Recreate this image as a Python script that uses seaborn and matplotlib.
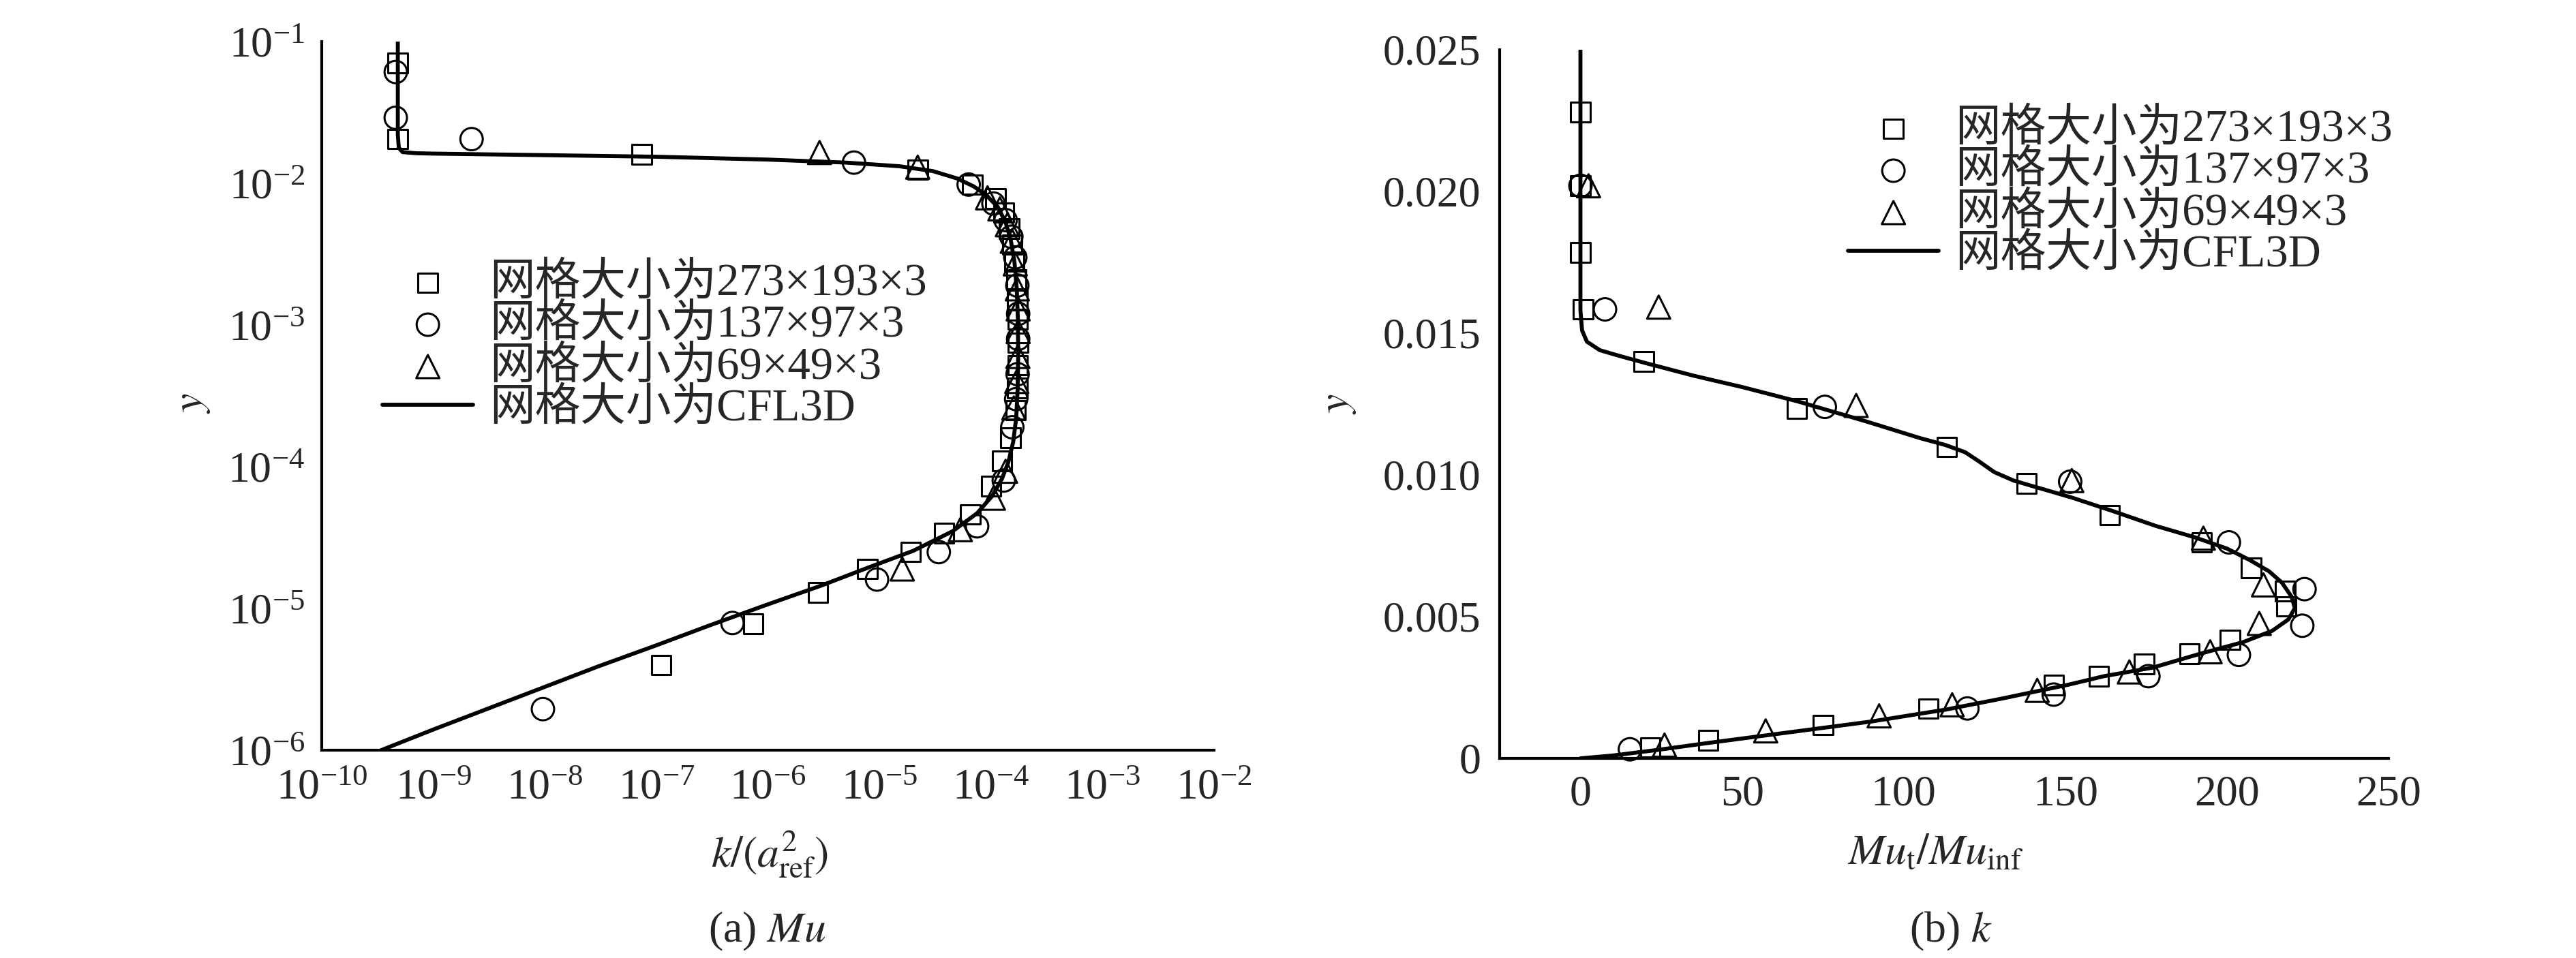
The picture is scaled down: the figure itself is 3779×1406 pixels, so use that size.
import numpy as np
import pandas as pd
import matplotlib
matplotlib.use("Agg")
import matplotlib.pyplot as plt
import seaborn as sns
from matplotlib.ticker import FixedLocator, LogLocator, NullFormatter, FixedFormatter

# ---------------- data: (a) Mu, log-log ----------------
mu_line_x = [4.8e-10, 4.8e-10, 4.8e-10, 4.9e-10, 5.3e-10, 7e-10, 1e-9, 1e-8, 1e-7, 1e-6,
             5e-6, 1.5e-5, 3e-5, 5e-5, 7e-5, 9e-5, 1.15e-4, 1.35e-4, 1.5e-4, 1.62e-4,
             1.7e-4, 1.74e-4, 1.75e-4, 1.73e-4, 1.68e-4, 1.58e-4, 1.43e-4, 1.25e-4, 1.02e-4, 7.5e-5,
             4.5e-5, 2e-5, 8e-6, 3e-6, 1e-6, 3e-7, 1e-7, 3e-8, 1e-8, 1e-9, 3.4e-10]
mu_line_y = [0.1, 0.04, 0.022, 0.0178, 0.0166, 0.0163, 0.0162, 0.0158, 0.0154, 0.0147,
             0.0140, 0.0132, 0.0122, 0.0108, 0.0095, 0.0083, 0.0068, 0.0053, 0.0040, 0.0028,
             0.0018, 0.0011, 6e-4, 3.5e-4, 2.2e-4, 1.5e-4, 1.08e-4, 8.2e-5, 6.2e-5, 4.7e-5,
             3.5e-5, 2.55e-5, 1.95e-5, 1.45e-5, 1.07e-5, 7.6e-6, 5.5e-6, 3.9e-6, 2.8e-6, 1.4e-6, 1e-6]

mu_sq_x = [4.8e-10, 4.8e-10, 7.4e-8, 2.2e-5, 6.8e-5, 1.1e-4, 1.3e-4, 1.45e-4, 1.55e-4, 1.62e-4,
           1.68e-4, 1.72e-4, 1.74e-4, 1.75e-4, 1.74e-4, 1.72e-4, 1.66e-4, 1.5e-4, 1.25e-4, 1.0e-4,
           6.5e-5, 3.8e-5, 1.9e-5, 7.8e-6, 2.8e-6, 7.4e-7, 1.1e-7]
mu_sq_y = [0.0707, 0.0205, 0.016, 0.0125, 0.0098, 0.0078, 0.0062, 0.0048, 0.0037, 0.0028,
           0.0021, 0.0015, 0.0011, 7.5e-4, 5.2e-4, 3.6e-4, 2.5e-4, 1.6e-4, 1.1e-4, 7.3e-5,
           4.6e-5, 3.4e-5, 2.5e-5, 1.9e-5, 1.3e-5, 7.8e-6, 4e-6]

mu_ci_x = [4.6e-10, 4.6e-10, 2.2e-9, 5.9e-6, 6.3e-5, 1.05e-4, 1.35e-4, 1.52e-4, 1.65e-4, 1.72e-4,
           1.75e-4, 1.75e-4, 1.73e-4, 1.68e-4, 1.55e-4, 1.3e-4, 7.5e-5, 3.4e-5, 9.5e-6, 4.8e-7, 9.6e-9]
mu_ci_y = [0.061, 0.029, 0.0205, 0.014, 0.0098, 0.0072, 0.0055, 0.0042, 0.003, 0.0019,
           0.0012, 8e-4, 4.5e-4, 3e-4, 1.9e-4, 8e-5, 3.8e-5, 2.5e-5, 1.6e-5, 7.9e-6, 1.95e-6]

mu_tr_x = [2.9e-6, 2.2e-5, 9.3e-5, 1.2e-4, 1.4e-4, 1.55e-4, 1.65e-4, 1.72e-4, 1.75e-4, 1.75e-4,
           1.74e-4, 1.7e-4, 1.6e-4, 1.35e-4, 1.05e-4, 5.3e-5, 1.6e-5]
mu_tr_y = [0.0165, 0.013, 0.0079, 0.0066, 0.0051, 0.0039, 0.0027, 0.0018, 0.0013, 9e-4,
           6e-4, 4e-4, 2.6e-4, 9.3e-5, 6e-5, 3.6e-5, 1.9e-5]

# ---------------- data: (b) k, linear ----------------
k_line_x = [0, 0, 0, 0.5, 2, 6, 12, 20, 35, 50, 67, 88, 105, 113, 119, 123, 128, 134, 140,
            152, 164, 178, 190, 200, 207, 213, 217, 220, 221, 219, 214, 205, 192, 177, 162,
            151, 130, 113, 90, 62, 40, 24, 10, 0]
k_line_y = [0.025, 0.020, 0.0158, 0.0151, 0.0147, 0.0144, 0.0142, 0.01395, 0.0135, 0.0131,
            0.0126, 0.0119, 0.0113, 0.01105, 0.0108, 0.0105, 0.0101, 0.0098, 0.0096,
            0.0092, 0.00875, 0.0082, 0.00780, 0.0074, 0.0070, 0.0066, 0.0062, 0.0057, 0.0053,
            0.0049, 0.0045, 0.0041, 0.0037, 0.0032, 0.0029, 0.0026, 0.0021, 0.00172, 0.0013,
            0.00088, 0.00055, 0.0003, 0.0001, 0.0]

k_sq_x = [0, 0, 0, 0.8, 19.6, 67, 113.3, 138, 163.7, 192.2, 207.5, 218, 218.4, 201, 188.4,
          174.4, 160.4, 146.4, 107.7, 75.1, 39.5, 21.6]
k_sq_y = [0.0228, 0.0202, 0.01785, 0.01584, 0.0140, 0.01234, 0.01099, 0.0097, 0.00858, 0.00762,
          0.00672, 0.0059, 0.00536, 0.00418, 0.00369, 0.00333, 0.0029, 0.00258, 0.00176, 0.00118,
          0.00064, 0.00039]

k_ci_x = [0, 7.6, 75.6, 151.5, 200.6, 224, 223.3, 203.7, 175.7, 146.4, 119.7, 15.3]
k_ci_y = [0.0202, 0.01584, 0.0124, 0.00976, 0.00762, 0.00597, 0.00468, 0.00365, 0.0029,
          0.00225, 0.00176, 0.00032]

k_tr_x = [2.5, 24.2, 85.3, 152, 192.7, 211.3, 210, 194.8, 169.8, 141.3, 115, 92.4, 57.3, 26]
k_tr_y = [0.0202, 0.01592, 0.01245, 0.0098, 0.00777, 0.00612, 0.00476, 0.00376, 0.00305,
          0.0024, 0.00189, 0.0015, 0.00097, 0.00047]

labels = ["网格大小为273×193×3", "网格大小为137×97×3", "网格大小为69×49×3", "网格大小为CFL3D"]

k_ticks = [0, 0.005, 0.010, 0.015, 0.020, 0.025]
k_tick_labels = ["0", "0.005", "0.010", "0.015", "0.020", "0.025"]
mut_ticks = [0, 50, 100, 150, 200, 250]

# ---------------- style ----------------
sns.set_style("white")
plt.rcParams["font.family"] = ["Liberation Serif", "Noto Sans CJK SC"]
plt.rcParams["mathtext.fontset"] = "stix"
plt.rcParams["axes.unicode_minus"] = True

FS = 46
LFS = 48

fig = plt.figure(figsize=(37.8, 14.06), dpi=100)
ax1 = fig.add_axes([0.1249, 0.2169, 0.3463, 0.7397])
ax2 = fig.add_axes([0.5820, 0.2084, 0.3450, 0.7397])

mk = dict(facecolors="none", edgecolor="black", linewidth=2.2, zorder=3, clip_on=False)


def draw(ax, sq, ci, tr, line):
    sns.scatterplot(x=sq[0], y=sq[1], marker="s", s=420, label=labels[0], ax=ax, **mk)
    sns.scatterplot(x=ci[0], y=ci[1], marker="o", s=560, label=labels[1], ax=ax, **mk)
    sns.scatterplot(x=tr[0], y=tr[1], marker="^", s=600, label=labels[2], ax=ax, **mk)
    df = pd.DataFrame({"x": line[0], "y": line[1]})
    sns.lineplot(data=df, x="x", y="y", sort=False, estimator=None, color="black",
                 linewidth=4.2, label=labels[3], ax=ax, zorder=4)


draw(ax1, (mu_sq_x, mu_sq_y), (mu_ci_x, mu_ci_y), (mu_tr_x, mu_tr_y), (mu_line_x, mu_line_y))
draw(ax2, (k_sq_x, k_sq_y), (k_ci_x, k_ci_y), (k_tr_x, k_tr_y), (k_line_x, k_line_y))

# ---- panel (a)
ax1.set_xscale("log")
ax1.set_yscale("log")
ax1.set_xlim(1e-10, 1e-2)
ax1.set_ylim(1e-6, 1e-1)
ax1.xaxis.set_major_locator(FixedLocator([10.0 ** e for e in range(-10, -1)]))
ax1.xaxis.set_minor_locator(FixedLocator([10.0 ** (e + 1) / m for e in range(-10, -2) for m in range(2, 10)]))
ax1.yaxis.set_major_locator(FixedLocator([10.0 ** e for e in range(-6, 0)]))
ax1.yaxis.set_minor_locator(LogLocator(base=10, subs=range(2, 10), numticks=50))
ax1.xaxis.set_minor_formatter(NullFormatter())
ax1.yaxis.set_minor_formatter(NullFormatter())
ax1.tick_params(which="major", direction="in", length=15, width=2.5, labelsize=FS, pad=20)
ax1.tick_params(which="minor", direction="in", length=7.5, width=2.2)
ax1.tick_params(axis="y", which="major", pad=18)
ax1.set_xlabel(r"$k/(a^{2}_{\mathrm{ref}})$", fontsize=FS, va="center")
ax1.xaxis.set_label_coords(0.502, -0.147)
ax1.set_ylabel(r"$y$", fontsize=FS, va="center")
ax1.yaxis.set_label_coords(-0.145, 0.49)

# ---- panel (b)
ax2.set_xlim(-25, 250)
ax2.set_ylim(0, 0.025)
ax2.xaxis.set_major_locator(FixedLocator(mut_ticks))
ax2.yaxis.set_major_locator(FixedLocator(k_ticks))
ax2.yaxis.set_major_formatter(FixedFormatter(k_tick_labels))
ax2.tick_params(which="major", direction="in", length=15, width=2.5, labelsize=FS, pad=18)
ax2.tick_params(axis="y", which="major", length=11, pad=20)
ax2.set_xlabel(r"$Mu_{\mathrm{t}}/Mu_{\mathrm{inf}}$", fontsize=FS, va="center")
ax2.xaxis.set_label_coords(0.49, -0.134)
ax2.set_ylabel(r"$y$", fontsize=FS, va="center")
ax2.yaxis.set_label_coords(-0.182, 0.50)

for ax in (ax1, ax2):
    for side in ("top", "right"):
        ax.spines[side].set_visible(False)
    for side in ("left", "bottom"):
        ax.spines[side].set_linewidth(3.0)
        ax.spines[side].set_color("black")
    ax.set_facecolor("white")

# legends (scatter handles first, line last)
anchors = {ax1: (561 / 3780, 1 - 508 / 1406), ax2: (2711 / 3780, 1 - 282 / 1406)}
for ax in (ax1, ax2):
    handles, labs = ax.get_legend_handles_labels()
    order = [labs.index(l) for l in labels]
    ax.legend([handles[i] for i in order], [labs[i] for i in order],
              loc="center left", bbox_to_anchor=anchors[ax], bbox_transform=fig.transFigure,
              frameon=False, fontsize=LFS, borderpad=0, borderaxespad=0,
              handlelength=2.0, handletextpad=0.35, labelspacing=0.0)

fig.text(1125 / 3780, 1 - 1367 / 1406, r"(a) $Mu$", fontsize=FS, ha="center", va="center")
fig.text(2862 / 3780, 1 - 1367 / 1406, r"(b) $k$", fontsize=FS, ha="center", va="center")

fig.savefig("out.png", dpi=100, facecolor="white")
